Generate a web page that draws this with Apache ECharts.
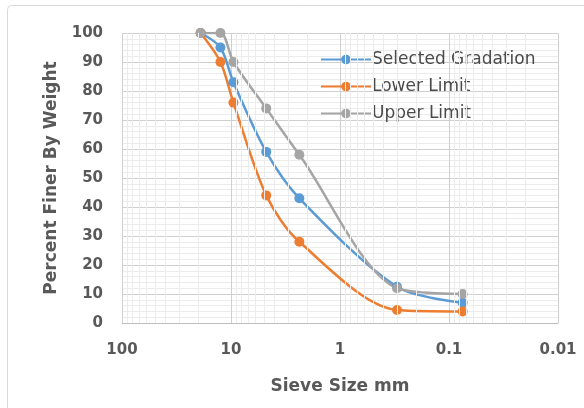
<!DOCTYPE html>
<html>
<head>
<meta charset="utf-8">
<script src="https://cdn.jsdelivr.net/npm/echarts@6/dist/echarts.min.js"></script>
<style>
  html, body { margin: 0; padding: 0; background: #fff; }
  #chart { width: 584px; height: 408px; }
</style>
</head>
<body>
<div id="chart"></div>
<script>
// sieve sizes (mm) and percent passing
var sieveSizes = [19, 12.5, 9.5, 4.75, 2.36, 0.3, 0.075];
var selectedGradation = [100, 95, 83, 59, 43, 12.5, 7];
var lowerLimit = [100, 90, 76, 44, 28, 4.5, 4];
var upperLimit = [100, 100, 90, 74, 58, 12, 10];
var yTicks = [0, 10, 20, 30, 40, 50, 60, 70, 80, 90, 100];

var textColor = '#595959';
var fontFam = '"DejaVu Sans", sans-serif';

function pairs(vals) {
  return sieveSizes.map(function (s, i) { return [s, vals[i]]; });
}

// minor log gridlines 2..9 inside each decade
var minorX = [];
[0.01, 0.1, 1, 10].forEach(function (d) {
  for (var k = 2; k <= 9; k++) minorX.push({ xAxis: +(d * k).toPrecision(3) });
});

function lineSeries(name, vals, color) {
  return {
    name: name,
    type: 'line',
    smooth: 0.3,
    symbol: 'circle',
    symbolSize: 10,
    data: pairs(vals),
    lineStyle: { color: color, width: 2.5 },
    itemStyle: { color: color }
  };
}

var chart = echarts.init(document.getElementById('chart'));
chart.setOption({
  animation: false,
  textStyle: { fontFamily: fontFam },
  graphic: [{
    type: 'rect',
    shape: { x: 7.5, y: 5.5, width: 620, height: 420, r: 4 },
    style: { fill: 'none', stroke: '#d9d9d9', lineWidth: 1 },
    silent: true
  }],
  grid: { left: 122, right: 26, top: 33, bottom: 85 },
  legend: {
    orient: 'vertical',
    left: 315,
    top: 46,
    itemWidth: 50,
    itemHeight: 12,
    itemGap: 10,
    textStyle: { color: '#4a4a4a', fontSize: 17, fontFamily: fontFam, padding: [0, 0, 0, -4] },
    data: ['Selected Gradation', 'Lower Limit', 'Upper Limit']
  },
  xAxis: {
    type: 'log',
    logBase: 10,
    min: 0.01,
    max: 100,
    inverse: true,
    splitNumber: 4,
    name: 'Sieve Size mm',
    nameLocation: 'middle',
    nameGap: 55,
    nameTextStyle: { color: textColor, fontSize: 17, fontWeight: 'bold' },
    axisLine: { show: true, lineStyle: { color: '#bfbfbf', width: 1 } },
    axisTick: { show: false },
    axisLabel: {
      color: textColor, fontSize: 15, fontWeight: 'bold', margin: 20,
      formatter: function (v) { return String(parseFloat(v.toPrecision(6))); }
    },
    splitLine: { show: true, lineStyle: { color: '#d0d0d0', width: 1 } }
  },
  yAxis: {
    type: 'value',
    min: 0,
    max: 100,
    interval: 10,
    name: 'Percent Finer By Weight',
    nameLocation: 'middle',
    nameGap: 62,
    nameTextStyle: { color: textColor, fontSize: 17, fontWeight: 'bold' },
    axisLine: { show: false },
    axisTick: { show: false },
    axisLabel: {
      color: textColor, fontSize: 15, fontWeight: 'bold', margin: 19,
      formatter: function (v) { return yTicks.indexOf(v) >= 0 ? String(v) : ''; }
    },
    splitLine: { show: true, lineStyle: { color: '#d0d0d0', width: 1 } },
    minorTick: { show: false, splitNumber: 5 },
    minorSplitLine: { show: true, lineStyle: { color: '#ececec', width: 1 } }
  },
  series: [
    {
      name: 'minor-grid',
      type: 'line',
      data: [],
      silent: true,
      z: 0,
      markLine: {
        silent: true,
        symbol: 'none',
        label: { show: false },
        lineStyle: { color: '#ececec', width: 1, type: 'solid' },
        data: minorX
      }
    },
    lineSeries('Selected Gradation', selectedGradation, '#5B9BD5'),
    lineSeries('Lower Limit', lowerLimit, '#ED7D31'),
    lineSeries('Upper Limit', upperLimit, '#A5A5A5')
  ]
});
</script>
</body>
</html>
